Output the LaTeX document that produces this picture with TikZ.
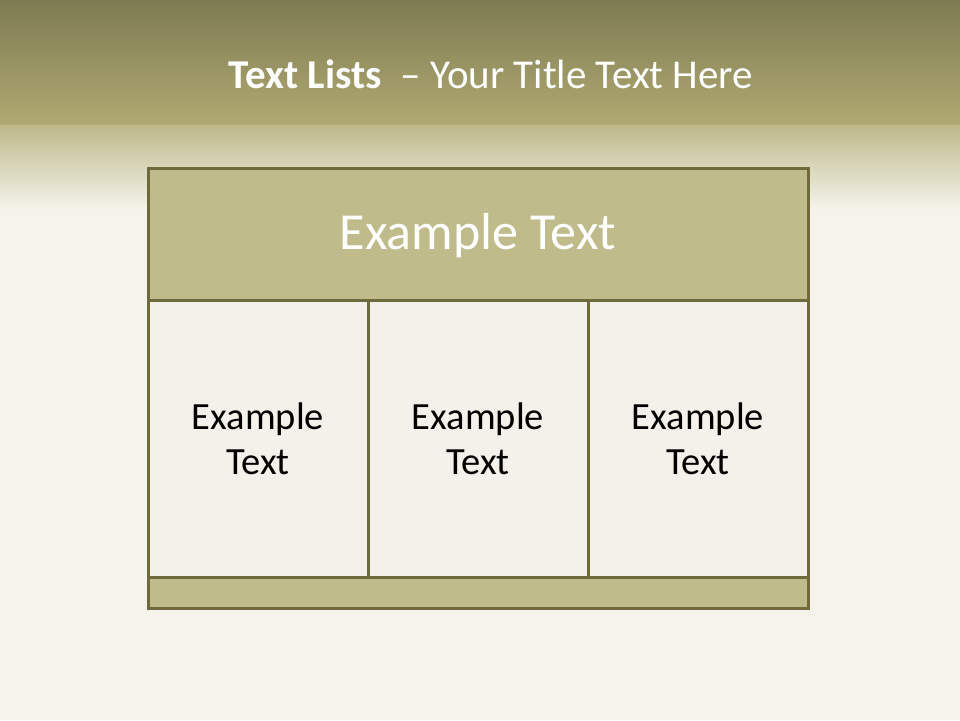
\documentclass[tikz,border=0pt]{standalone}
\usepackage{fontspec}
\setmainfont{Carlito}
\usetikzlibrary{positioning}
\definecolor{bandtop}{HTML}{7E7B52}
\definecolor{bandbot}{HTML}{B0AA72}
\definecolor{paper}{HTML}{F5F4EC}
\definecolor{frame}{HTML}{6E6A3C}
\definecolor{olivefill}{HTML}{C0BB8B}
\definecolor{cellfill}{HTML}{F3F1E9}
\tikzset{
  box/.style={draw=frame, line width=3pt, anchor=north west, inner sep=0pt, outer sep=0pt},
  oliveb/.style={box, fill=olivefill},
  cellb/.style={box, fill=cellfill, minimum width=220pt, minimum height=277pt},
  celltext/.style={font=\fontsize{38.5}{45}\selectfont, text=black, align=center},
  titletext/.style={font=\fontsize{41}{50}\selectfont, text=white, anchor=base}
}
\begin{document}
\begin{tikzpicture}[x=1pt,y=-1pt]
\useasboundingbox (0,0) rectangle (960,720);
% background
\fill[paper] (0,0) rectangle (960,720);
\shade[top color=bandtop, bottom color=bandbot] (0,0) rectangle (960,126);
\shade[top color=bandbot!80!paper, bottom color=paper] (0,125) rectangle (960,210);
% title
\node[titletext] (title) at (491,88) {\textbf{Text Lists}\ \ – Your Title Text Here};
% table
\node[oliveb, minimum width=660pt, minimum height=132pt] (head) at (148,168) {};
\node[cellb] (c1) at (148,300) {};
\node[cellb] (c2) at (368,300) {};
\node[cellb] (c3) at (588,300) {};
\node[oliveb, minimum width=660pt, minimum height=31pt] (foot) at (148,577) {};
\draw[frame, line width=3pt] (head.north west) rectangle (foot.south east);
% header text
\node[font=\fontsize{52}{60}\selectfont, text=white] (headtext) at ([yshift=-2pt]head.center) {Example Text};
% cell texts
\node[celltext] (t1) at (c1.center) {Example\\Text};
\node[celltext] (t2) at (c2.center) {Example\\Text};
\node[celltext] (t3) at (c3.center) {Example\\Text};
\end{tikzpicture}
\end{document}
